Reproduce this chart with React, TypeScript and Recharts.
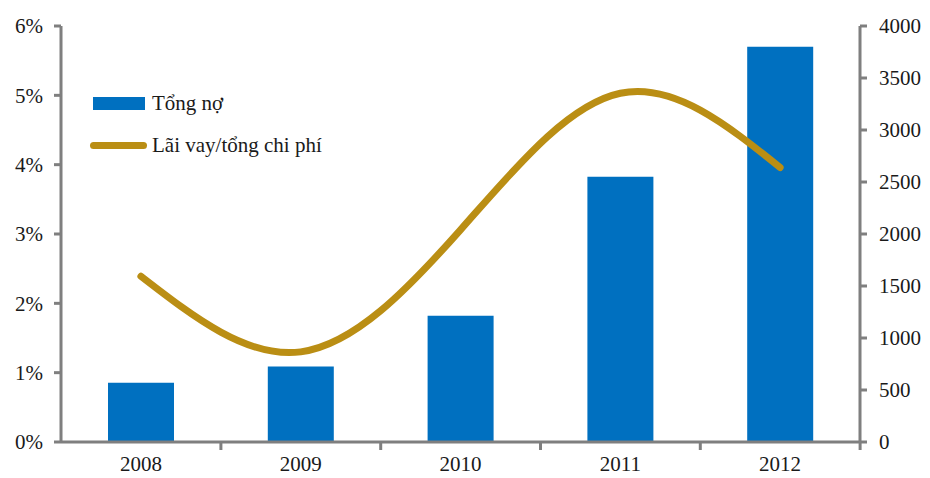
import React from "react";
import {Bar, ComposedChart, Line, XAxis, YAxis} from "recharts";

const years = ["2008", "2009", "2010", "2011", "2012"];
const tongNo = [570, 725, 1215, 2550, 3800];
const laiVay = [2.39, 1.3, 3.06, 5.03, 3.96];
const leftTicks = [0, 1, 2, 3, 4, 5, 6];
const rightTicks = [0, 500, 1000, 1500, 2000, 2500, 3000, 3500, 4000];

const data = years.map((year, i) => ({year, tongNo: tongNo[i], laiVay: laiVay[i]}));

const BAR_COLOR = "#0070C0";
const LINE_COLOR = "#BA8E14";
const AXIS_COLOR = "#7f7f7f";
const FONT = "'Liberation Serif', 'Times New Roman', serif";
const HALF_BAND = 80;

// category label in the middle, tick mark on the band edge (Excel style)
const XTick = (props: any) => {
    const {x, y, payload} = props;
    return (
        <g>
            <line x1={x + HALF_BAND} x2={x + HALF_BAND} y1={y} y2={y + 8} stroke={AXIS_COLOR} strokeWidth={3}/>
            <text x={x} y={y + 14} dy="0.71em" textAnchor="middle" fontFamily={FONT} fontSize={21} fill="#1a1a1a">
                {payload.value}
            </text>
        </g>
    );
};

const LegendBox = () => (
    <div style={{position: "absolute", left: 88, top: 91, fontFamily: FONT, fontSize: 21, color: "#1a1a1a", lineHeight: "24px"}}>
        <div style={{display: "flex", alignItems: "center", height: 24, marginBottom: 18}}>
            <div style={{width: 52, height: 13, background: BAR_COLOR, marginLeft: 5, marginRight: 7}}/>
            <span>Tổng nợ</span>
        </div>
        <div style={{display: "flex", alignItems: "center", height: 24}}>
            <div style={{width: 57, height: 7, borderRadius: 4, background: LINE_COLOR, marginLeft: 2, marginRight: 5}}/>
            <span>Lãi vay/tổng chi phí</span>
        </div>
    </div>
);

export default function App() {
    return (
        <div style={{position: "absolute", left: 0, top: 0, width: 930, height: 478, background: "#fff"}}>
            <ComposedChart width={930} height={478} data={data} margin={{top: 26, right: 0, bottom: 0, left: 0}}>
                <XAxis
                    dataKey="year"
                    height={36}
                    axisLine={{stroke: AXIS_COLOR, strokeWidth: 3}}
                    tickLine={false}
                    tickSize={0}
                    tickMargin={0}
                    tick={<XTick/>}
                    interval={0}
                />
                <YAxis
                    yAxisId="left"
                    orientation="left"
                    width={61}
                    domain={[0, 6]}
                    ticks={leftTicks}
                    tickFormatter={(v: number) => `${v}%`}
                    axisLine={{stroke: AXIS_COLOR, strokeWidth: 3}}
                    tickLine={{stroke: AXIS_COLOR, strokeWidth: 3}}
                    tickSize={7}
                    tickMargin={11}
                    tick={{fontFamily: FONT, fontSize: 21, fill: "#1a1a1a"}}
                    interval={0}
                />
                <YAxis
                    yAxisId="right"
                    orientation="right"
                    width={70}
                    domain={[0, 4000]}
                    ticks={rightTicks}
                    axisLine={{stroke: AXIS_COLOR, strokeWidth: 3}}
                    tickLine={{stroke: AXIS_COLOR, strokeWidth: 3}}
                    tickSize={7}
                    tickMargin={12}
                    tick={{fontFamily: FONT, fontSize: 21, fill: "#1a1a1a"}}
                    interval={0}
                />
                <Bar yAxisId="right" dataKey="tongNo" name="Tổng nợ" fill={BAR_COLOR} barSize={66} isAnimationActive={false}/>
                <Line
                    yAxisId="left"
                    dataKey="laiVay"
                    name="Lãi vay/tổng chi phí"
                    type="natural"
                    stroke={LINE_COLOR}
                    strokeWidth={7}
                    strokeLinecap="round"
                    dot={false}
                    activeDot={false}
                    isAnimationActive={false}
                />
            </ComposedChart>
            <LegendBox/>
        </div>
    );
}
